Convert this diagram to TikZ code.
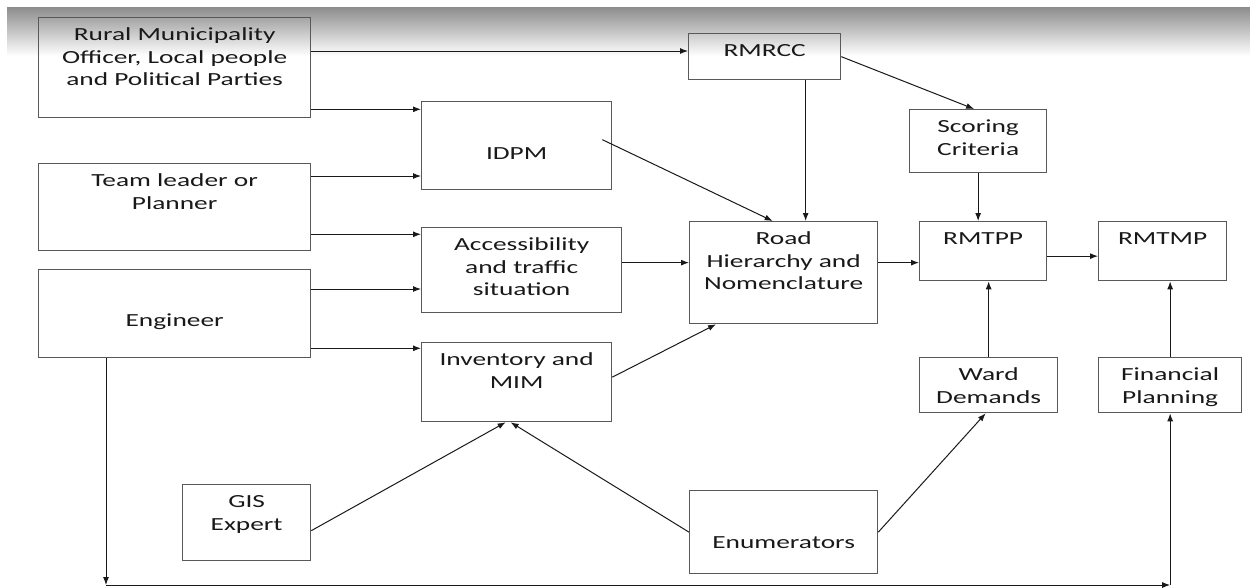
\documentclass[tikz,border=0pt]{standalone}
\usepackage{fontspec}
\setmainfont{Carlito}[FakeStretch=1.48]
\usetikzlibrary{arrows.meta}

\tikzset{
  box/.style 2 args={draw=black!65, line width=1.3pt, anchor=north west, inner sep=0pt,
    text width=#1, text height=23pt, text depth=#2, align=center, text=black!90,
    font=\fontsize{18.5}{22.5}\selectfont},
  link/.style={->, line width=1pt, black!90},
}

\begin{document}
\begin{tikzpicture}[x=1pt, y=-1pt, >={Latex[length=8pt,width=6pt]}]
  \useasboundingbox (0,0) rectangle (1250,587);
  \shade[top color=black!45, bottom color=white] (7,7) rectangle (1250,56);

  % people
  \node[box={272pt}{77pt}] (rural) at (38,17) {Rural Municipality\\Officer, Local people\\and Political Parties};
  \node[box={272pt}{64pt}] (team) at (38,163) {Team leader or\\Planner};
  \node[box={272pt}{31pt}, text height=57pt] (eng) at (38,269) {Engineer};
  \node[box={128pt}{53pt}] (gis) at (182,484) {GIS\\Expert};
  \node[box={188pt}{25pt}, text height=58pt] (enum) at (689,490) {Enumerators};

  % studies
  \node[box={190pt}{30pt}, text height=58pt] (idpm) at (421,101) {IDPM};
  \node[box={200pt}{62pt}] (access) at (421,227) {Accessibility\\and traffic\\situation};
  \node[box={190pt}{56pt}] (invent) at (421,342) {Inventory and\\MIM};
  \node[box={152pt}{23pt}] (rmrcc) at (688,33) {RMRCC};
  \node[box={188pt}{79pt}] (road) at (689,221) {Road\\Hierarchy and\\Nomenclature};
  \node[box={137pt}{40pt}] (score) at (909,109) {Scoring\\Criteria};
  \node[box={127pt}{36pt}] (rmtpp) at (919,221) {RMTPP};
  \node[box={128pt}{36pt}] (rmtmp) at (1098,221) {RMTMP};
  \node[box={138pt}{32pt}] (ward) at (919,357) {Ward\\Demands};
  \node[box={143pt}{32pt}] (fin) at (1098,357) {Financial\\Planning};

  % inputs from the left
  \draw[link] ([yshift=-34pt]rural.north east) coordinate (r1) -- (r1 -| rmrcc.west);
  \draw[link] ([yshift=9pt]rural.south east) coordinate (r2) -- (r2 -| idpm.west);
  \draw[link] ([yshift=-13pt]team.north east) coordinate (t1) -- (t1 -| idpm.west);
  \draw[link] ([yshift=17pt]team.south east) coordinate (t2) -- (t2 -| access.west);
  \draw[link] ([yshift=-20pt]eng.north east) coordinate (e1) -- (e1 -| access.west);
  \draw[link] ([yshift=10pt]eng.south east) coordinate (e2) -- (e2 -| invent.west);
  \draw[link] ([yshift=-8pt]gis.east) -- ([xshift=-11pt]invent.south);
  \draw[link] (enum.west) -- ([xshift=-6pt]invent.south);

  % towards the road hierarchy
  \draw[link] ([xshift=-10pt,yshift=6pt]idpm.east) -- ([xshift=-11pt]road.north);
  \draw[link] ([xshift=41pt]rmrcc.south) coordinate (m1) -- (m1 |- road.north);
  \draw[link] ([yshift=7.5pt]access.east) coordinate (a1) -- (a1 -| road.west);
  \draw[link] ([yshift=5pt]invent.east) -- ([xshift=27pt]road.south west);

  % plans
  \draw[link] (rmrcc.east) -- ([xshift=-4pt]score.north);
  \draw[link] (score.south) -- (score.south |- rmtpp.north);
  \draw[link] ([yshift=10pt]road.east) coordinate (h1) -- (h1 -| rmtpp.west);
  \draw[link] ([yshift=-5pt]rmtpp.east) coordinate (p1) -- (p1 -| rmtmp.west);
  \draw[link] (ward.north) -- (ward.north |- rmtpp.south);
  \draw[link] (fin.north) -- (fin.north |- rmtmp.south);
  \draw[link] (enum.east) -- ([xshift=-3pt]ward.south);

  % engineer to financial planning
  \coordinate (base) at (0,585);
  \draw[link] ([xshift=68pt]eng.south west) coordinate (g1) -- (g1 |- base) coordinate (g2);
  \draw[link] (g2) -- (g2 -| fin.south) coordinate (g3);
  \draw[link] (g3) -- (fin.south);
\end{tikzpicture}
\end{document}
